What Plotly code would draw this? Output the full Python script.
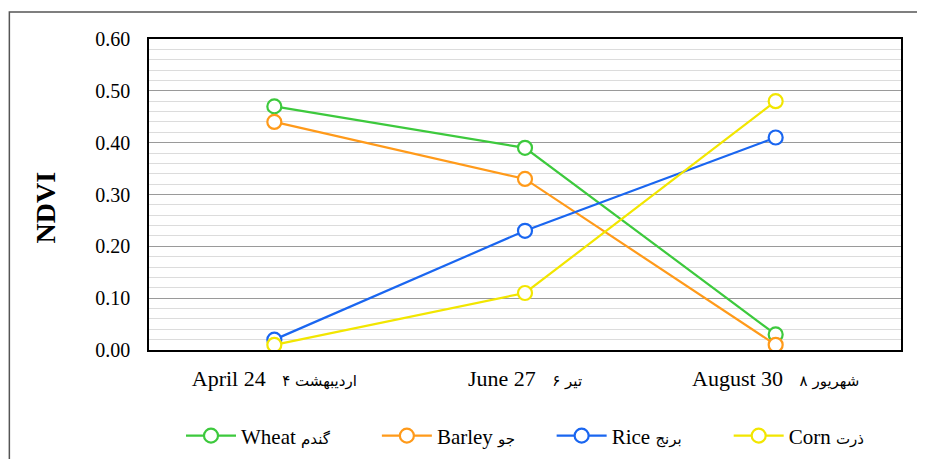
import plotly.graph_objects as go

NB = "\u00a0"
categories_en = ["April 24", "June 27", "August 30"]
categories_fa = ["۴ اردیبهشت", "۶ تیر", "۸ شهریور"]
series_en = ["Wheat", "Barley", "Rice", "Corn"]
series_fa = ["گندم", "جو", "برنج", "ذرت"]
wheat = [0.47, 0.39, 0.03]
barley = [0.44, 0.33, 0.01]
rice = [0.02, 0.23, 0.41]
corn = [0.01, 0.11, 0.48]
colors = ["#3dc93d", "#ff9a1a", "#1a66f0", "#f2e600"]
y_ticks = [0.0, 0.1, 0.2, 0.3, 0.4, 0.5, 0.6]
y_tick_labels = ["0.00", "0.10", "0.20", "0.30", "0.40", "0.50", "0.60"]

FONT = "Liberation Serif, Times New Roman, serif"
FA_FONT = "DejaVu Sans, sans-serif"

def fa_span(txt, size):
    return f"<span style='font-family:{FA_FONT};font-size:{size}px'>{txt}</span>"

tick_text = [en + NB * 3 + fa_span(fa, 15) for en, fa in zip(categories_en, categories_fa)]
trailing = [8, 6, 8, 0]
legend_names = [en + NB + fa_span(fa, 15) + NB * t
                for en, fa, t in zip(series_en, series_fa, trailing)]

fig = go.Figure()
for name, vals, col in zip(legend_names, [wheat, barley, rice, corn], colors):
    fig.add_trace(go.Scatter(
        x=categories_en, y=vals, name=name, mode="lines+markers",
        line=dict(color=col, width=2.2),
        marker=dict(symbol="circle", size=14, color="white",
                    line=dict(color=col, width=2.2)),
    ))

fig.update_layout(
    width=917, height=451,
    margin=dict(l=141, r=24, t=31, b=109, autoexpand=False),
    paper_bgcolor="white", plot_bgcolor="white",
    font=dict(family=FONT, size=21, color="black"),
    showlegend=True,
    legend=dict(orientation="h", x=0.5, xanchor="center", y=-0.2765, yanchor="middle",
                font=dict(family=FONT, size=21), itemwidth=50,
                traceorder="normal", tracegroupgap=0),
    shapes=[dict(type="rect", xref="paper", yref="paper",
                 x0=-0.1857, x1=1.2, y0=-0.5, y1=1.0868,
                 line=dict(color="#555555", width=1.5), layer="below")],
    annotations=[dict(text="<b>NDVI</b>", xref="paper", yref="paper",
                      x=-0.1377, y=0.46, xanchor="center", yanchor="middle",
                      textangle=-90, showarrow=False,
                      font=dict(family=FONT, size=28, color="black"))],
)

fig.update_xaxes(
    type="category", range=[-0.5, 2.5],
    tickvals=categories_en, ticktext=tick_text,
    showline=True, linecolor="black", linewidth=1.5, mirror=True,
    showgrid=False, ticks="", ticklabelstandoff=8,
    tickfont=dict(family=FONT, size=22),
)
fig.update_yaxes(
    range=[0, 0.6], tickvals=y_ticks, ticktext=y_tick_labels,
    showline=True, linecolor="black", linewidth=1.5, mirror=True,
    showgrid=True, gridcolor="#9a9a9a", gridwidth=1,
    minor=dict(dtick=0.02, showgrid=True, gridcolor="#dcdcdc", gridwidth=1),
    ticks="", ticklabelstandoff=13, zeroline=False,
    tickfont=dict(family=FONT, size=20),
)

fig.write_html("out.html")
